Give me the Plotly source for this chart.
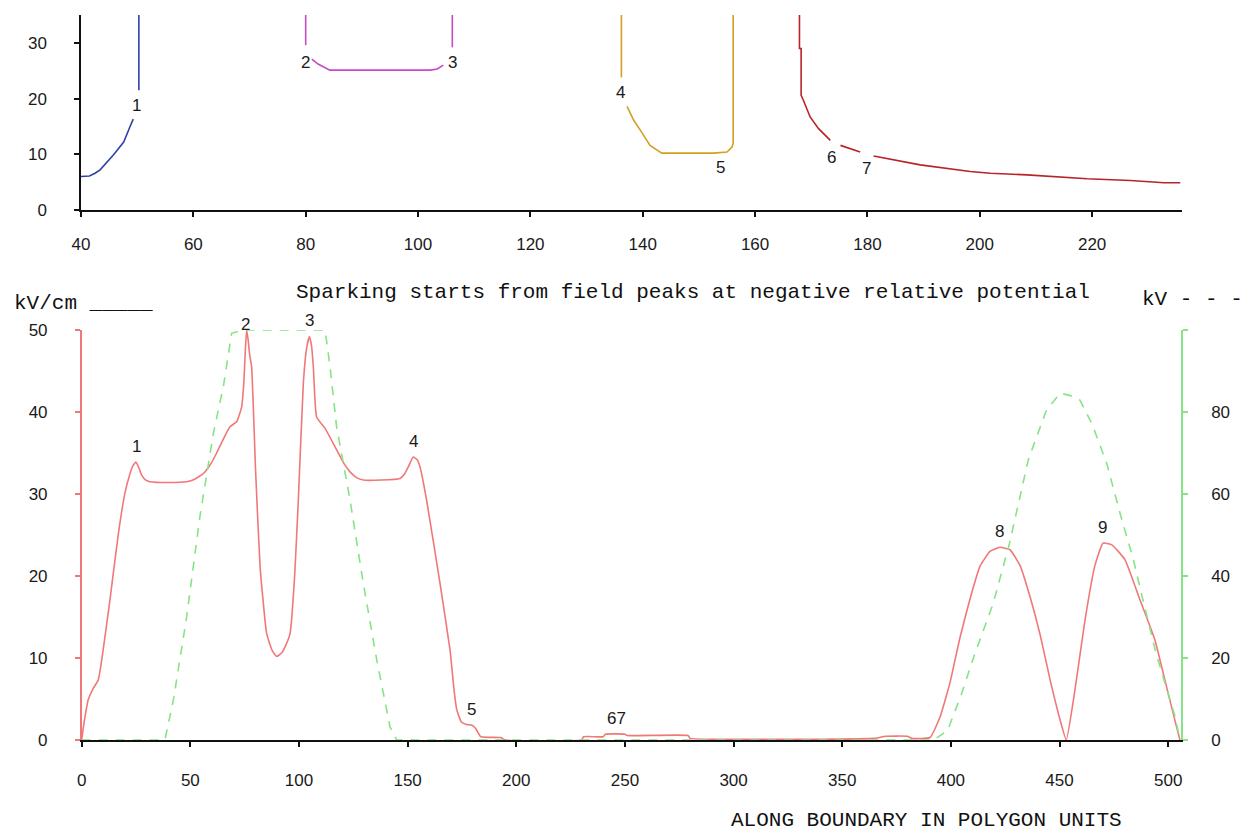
import plotly.graph_objects as go

# ---------------- upper panel: field vs. position for each boundary segment ----------------
seg1_x = [40.0, 41.5, 42.5, 43.4, 45.8, 47.6, 48.7, 49.3, None, 50.3, 50.3]
seg1_y = [6.0, 6.1, 6.6, 7.2, 9.9, 12.2, 14.9, 16.3, None, 21.5, 35.0]

seg2_x = [80.0, 80.0, None, 81.1, 82.2, 84.3, 102.2, 103.4, 104.5, None, 106.1, 106.1]
seg2_y = [35.0, 29.6, None, 27.1, 26.2, 25.1, 25.1, 25.3, 26.0, None, 29.2, 35.0]

seg3_x = [136.2, 136.2, None, 137.2, 138.4, 139.6, 141.3, 143.4, 152.6, 155.0, 155.9, 156.1, 156.1]
seg3_y = [35.0, 23.8, None, 18.6, 16.1, 14.3, 11.6, 10.2, 10.2, 10.4, 11.3, 12.0, 35.0]

seg4_x = [167.9, 167.9, 168.2, 168.2, 168.6, 169.8, 171.3, 173.4, None, 175.2, 178.7, None,
          181.1, 184.7, 189.4, 198.3, 201.9, 208.4, 213.2, 219.1, 226.8, 232.8, 235.7]
seg4_y = [35.0, 29.0, 29.0, 20.6, 19.7, 16.7, 14.6, 12.5, None, 11.6, 10.4, None,
          9.7, 9.0, 8.1, 6.9, 6.6, 6.3, 6.0, 5.6, 5.3, 4.9, 4.9]

top_labels = ["1", "2", "3", "4", "5", "6", "7", "9", "8"]
top_label_x = [49.9, 79.9, 106.1, 136.0, 153.8, 173.6, 179.8, 61.7, 123.0]
top_label_y = [18.8, 26.5, 26.5, 21.1, 7.7, 9.5, 7.5, -1.8, -1.8]

top_xticks = [40, 60, 80, 100, 120, 140, 160, 180, 200, 220]
top_yticks = [0, 10, 20, 30]

# ---------------- lower panel: field (kV/cm) and potential (kV) along the boundary ----------------
pos_field = [0, 0.8, 3.0, 5.3, 7.6, 9.2, 13.0, 16.9, 19.9, 22.0, 23.5, 25.0, 26.3, 27.6, 29.5,
             31.4, 40, 48.3, 52.0, 56.0, 59.0, 62.1, 65.0, 68.2, 71.3, 73.6, 74.6, 75.3,
             75.9, 76.6, 77.3, 78.2, 80.0, 82.1, 85.1, 87.5, 89.7, 92.0, 94.0, 95.9, 98.0,
             99.7, 102.0, 103.5, 104.8, 105.8, 106.6, 108.1, 112.0, 117.3, 120.5, 123.5,
             126.5, 129.6, 138.0, 146.5, 148.5, 150.3, 152.6, 154.3, 155.7, 158.7, 164.9,
             169.5, 171.4, 172.6, 174.7, 177.0, 179.6, 181.3, 183.7, 192.8, 195.0, 230.0,
             231.0, 240.0, 241.0, 250.0, 251.0, 279.0, 280.0, 320.0, 340.0, 365.0, 370.0,
             380.0, 382.0, 390.4, 395.0, 399.6, 404.2, 408.8, 413.4, 418.0, 422.6, 427.2,
             431.8, 436.5, 441.1, 445.7, 450.3, 453.1, 457.1, 461.7, 466.3, 470.0, 474.1,
             480.1, 487.0, 493.9, 498.5, 503.1, 505.4]
field_kvcm = [0, 1.6, 4.9, 6.3, 7.3, 9.7, 17.1, 25.2, 30.1, 32.3, 33.4, 33.9, 33.2, 32.3, 31.7,
              31.5, 31.4, 31.5, 31.8, 32.5, 33.5, 35.0, 36.6, 38.2, 38.8, 40.6, 43.5, 47.5,
              50.0, 48.8, 47.0, 45.5, 33.0, 21.1, 13.0, 11.0, 10.2, 10.6, 11.6, 13.0, 20.0,
              29.3, 43.5, 47.8, 49.2, 48.0, 45.5, 39.4, 38.0, 35.4, 33.8, 32.7,
              32.0, 31.7, 31.7, 31.9, 32.4, 33.3, 34.5, 34.2, 33.3, 29.3, 19.1,
              11.0, 6.0, 3.7, 2.2, 1.9, 1.8, 1.4, 0.4, 0.3, 0.0, 0.0,
              0.4, 0.4, 0.7, 0.7, 0.55, 0.55, 0.2, 0.1, 0.1, 0.2, 0.45,
              0.45, 0.2, 0.3, 2.8, 7.0, 12.5, 17.2, 21.2, 23.0, 23.5, 23.2,
              21.3, 17.4, 12.8, 7.3, 2.4, 0.0, 6.1, 14.6, 21.3, 24.0, 23.8,
              22.0, 17.1, 12.2, 7.3, 2.4, 0.0]

pos_pot = [0, 38.3, 42.2, 48.3, 54.4, 60.6, 65.2, 69.0, 74.4, 112.0, 114.3, 117.3, 123.5,
           129.6, 135.8, 141.9, 145.0, 392.0, 398.5, 404.8, 411.0, 419.4, 427.0, 435.6,
           444.0, 450.3, 455.0, 459.4, 465.0, 471.7, 478.0, 484.0, 488.0, 494.0, 499.0,
           503.0, 505.5]
potential_kv = [0, 0, 9.8, 30.0, 54.5, 74.8, 86.2, 99.2, 100, 100, 91.0, 76.4, 58.5,
                38.2, 19.5, 3.2, 0, 0, 2.3, 11.1, 21.0, 33.2, 48.0, 68.3,
                80.5, 84.6, 84.0, 82.9, 77.0, 67.5, 55.0, 44.0, 35.0, 22.0, 13.0,
                6.0, 0]

peak_labels = ["1", "2", "3", "4", "5", "67", "8", "9"]
peak_pos = [25.0, 75.6, 104.8, 152.6, 179.6, 246.3, 422.6, 470.0]

bot_xticks = list(range(0, 501, 50))
left_ticks = [0, 10, 20, 30, 40, 50]
right_ticks = [0, 20, 40, 60, 80, 100]
right_ticktext = ["0", "20", "40", "60", "80", ""]

# ---------------- figure geometry ----------------
W, H = 1251, 835


def px_x(p):
    return p / W


def px_y(p):
    return 1 - p / H


TOP_X = [px_x(81), px_x(1182)]
TOP_Y = [px_y(210), px_y(15)]
BOT_X = [px_x(81.7), px_x(1181)]
BOT_Y = [px_y(740), px_y(330)]

PINK = "#f07878"
GREEN = "#86e486"
TICKFONT = dict(family="Liberation Sans, Arial, sans-serif", size=17, color="#1a1a1a")
MONO = "Liberation Mono, Courier New, monospace"

fig = go.Figure()

for xs, ys, col in [(seg1_x, seg1_y, "#3040a8"), (seg2_x, seg2_y, "#c848c8"),
                    (seg3_x, seg3_y, "#d4a024"), (seg4_x, seg4_y, "#b82428")]:
    fig.add_trace(go.Scatter(x=xs, y=ys, mode="lines", line=dict(color=col, width=1.6),
                             connectgaps=False, xaxis="x", yaxis="y", hoverinfo="skip"))

fig.add_trace(go.Scatter(x=pos_pot, y=potential_kv, mode="lines",
                         line=dict(color=GREEN, width=1.6, dash="9px,8px"),
                         xaxis="x2", yaxis="y3", hoverinfo="skip", cliponaxis=False))
fig.add_trace(go.Scatter(x=pos_field, y=field_kvcm, mode="lines",
                         line=dict(color=PINK, width=1.6, shape="spline", smoothing=0.4),
                         xaxis="x2", yaxis="y2", hoverinfo="skip", cliponaxis=False))


def axis(domain, rng, anchor, tickvals, ticks="outside", labels=True, color="#111",
         side=None, overlaying=None, ticktext=None, standoff=None, showline=True):
    d = dict(domain=domain, range=rng, anchor=anchor, tickmode="array", tickvals=tickvals,
             ticks=ticks, ticklen=5, tickwidth=1.5, tickcolor=color, showline=showline,
             linecolor=color, linewidth=1.5, showgrid=False, zeroline=False,
             showticklabels=labels, tickfont=TICKFONT, fixedrange=True, automargin=False)
    if ticktext is not None:
        d["ticktext"] = ticktext
    if side:
        d["side"] = side
    if overlaying:
        d["overlaying"] = overlaying
    if standoff is not None:
        d["ticklabelstandoff"] = standoff
    return d


layout_axes = dict(
    xaxis=axis(TOP_X, [40, 236], "y", top_xticks, standoff=13),
    yaxis=axis(TOP_Y, [0, 35], "x", top_yticks, standoff=24),
    xaxis3=axis(TOP_X, [40, 236], "y", top_xticks[1:], ticks="inside", labels=False,
                overlaying="x", showline=False),
    yaxis4=axis(TOP_Y, [0, 35], "x", top_yticks, ticks="inside", labels=False,
                overlaying="y", showline=False),
    xaxis2=axis(BOT_X, [0, 505.9], "y2", bot_xticks, standoff=19),
    yaxis2=axis(BOT_Y, [0, 50], "x2", left_ticks, color=PINK, standoff=24),
    yaxis3=axis(BOT_Y, [0, 100], "x2", right_ticks, color=GREEN, side="right",
                overlaying="y2", ticktext=right_ticktext, standoff=20),
    xaxis4=axis(BOT_X, [0, 505.9], "y2", bot_xticks, ticks="inside", labels=False,
                overlaying="x2", showline=False),
    yaxis5=axis(BOT_Y, [0, 50], "x2", left_ticks, ticks="inside", labels=False,
                color=PINK, overlaying="y2", showline=False),
    yaxis6=axis(BOT_Y, [0, 100], "x2", right_ticks, ticks="inside", labels=False,
                color=GREEN, side="right", overlaying="y2", showline=False),
)

annotations = []
for t, x, y in zip(top_labels, top_label_x, top_label_y):
    annotations.append(dict(x=x, y=y, xref="x", yref="y", text=t, showarrow=False,
                            font=dict(family="Liberation Sans, Arial, sans-serif", size=17,
                                      color="#1a1a1a"),
                            bgcolor="white" if y < 0 else None, borderpad=0))


def field_at(p):
    for i in range(len(pos_field) - 1):
        if pos_field[i] <= p <= pos_field[i + 1]:
            a, b = pos_field[i], pos_field[i + 1]
            f = 0 if b == a else (p - a) / (b - a)
            return field_kvcm[i] + f * (field_kvcm[i + 1] - field_kvcm[i])
    return 0


for t, p in zip(peak_labels, peak_pos):
    annotations.append(dict(x=p, y=field_at(p), xref="x2", yref="y2", text=t,
                            showarrow=False, yshift=16, yanchor="middle",
                            font=dict(family="Liberation Sans, Arial, sans-serif", size=17,
                                      color="#1a1a1a")))

annotations += [
    dict(x=px_x(693), y=px_y(292), xref="paper", yref="paper", showarrow=False,
         text="Sparking starts from field peaks at negative relative potential",
         font=dict(family=MONO, size=21, color="#111"), xanchor="center", yanchor="middle"),
    dict(x=px_x(12), y=px_y(303), xref="paper", yref="paper", showarrow=False,
         text="kV/cm _____", font=dict(family=MONO, size=21, color="#111"),
         xanchor="left", yanchor="middle"),
    dict(x=px_x(1140), y=px_y(300), xref="paper", yref="paper", showarrow=False,
         text="kV - - -", font=dict(family=MONO, size=21, color="#111"),
         xanchor="left", yanchor="middle"),
    dict(x=px_x(926), y=px_y(820), xref="paper", yref="paper", showarrow=False,
         text="ALONG BOUNDARY IN POLYGON UNITS", font=dict(family=MONO, size=21, color="#111"),
         xanchor="center", yanchor="middle"),
]

fig.update_layout(
    template="none",
    width=W, height=H, margin=dict(l=0, r=0, t=0, b=0, pad=0, autoexpand=False),
    paper_bgcolor="white", plot_bgcolor="white", showlegend=False,
    annotations=annotations, **layout_axes,
)

fig.write_html("out.html")
